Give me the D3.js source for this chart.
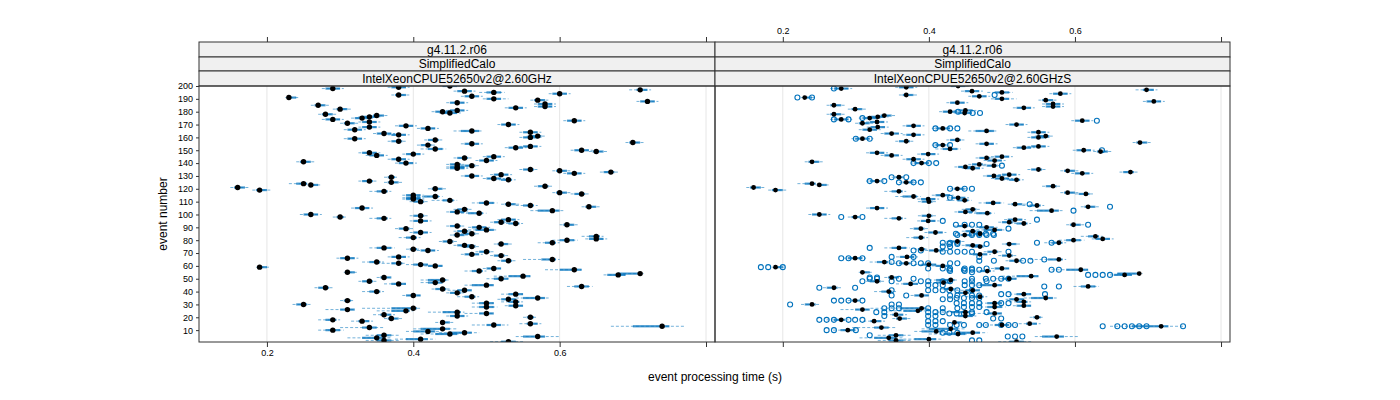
<!DOCTYPE html>
<html><head><meta charset="utf-8">
<script src="https://cdn.jsdelivr.net/npm/d3@7"></script>
<style>body{margin:0;background:#fff}svg{font-family:"Liberation Sans",Arial,sans-serif}</style>
</head><body><svg id="c" width="1400" height="400"></svg>
<script>
// ---------- data ----------
const stripLevels = ["g4.11.2.r06", "SimplifiedCalo"];
const panelNames = ["IntelXeonCPUE52650v2@2.60GHz", "IntelXeonCPUE52650v2@2.60GHzS"];
const xTicks = [0.2, 0.4, 0.6, 0.8];
const xTickLabels = ["0.2", "0.4", "0.6", ""];
const yTicks = [10,20,30,40,50,60,70,80,90,100,110,120,130,140,150,160,170,180,190,200];
const events = d3.range(1, 201);
// median event time per event (s), left panel
const medianA = [
.53,.36,.41,.35,.57,.36,.45,.47,.42,.29, .44,.34,.74,.51,.56,.44,.33,.29,.37,.56,
.46,.36,.50,.46,.39,.31,.40,.50,.54,.25, .50,.54,.31,.53,.57,.48,.40,.54,.46,.35,
.47,.44,.28,.63,.50,.38,.43,.34,.44,.52, .36,.55,.68,.71,.31,.49,.62,.51,.19,.43,
.41,.38,.35,.53,.59,.31,.38,.52,.48,null, .50,.42,.40,.36,.48,.47,.52,.59,.45,.61,
.65,.40,.65,.46,.48,.41,.47,.50,.39,.49, .46,.61,.54,.52,.41,.53,.36,.30,.41,.26,
.49,.46,.59,.47,.33,.64,.56,.53,.50,.41, .45,.40,.40,.43,.40,.63,.60,.36,.19,.43,
.16,.58,.26,.25,.37,.34,.53,.51,.37,.48, .52,.62,.67,.60,.56,.46,.46,.48,.46,.39,
.25,.50,.38,.47,.51,.35,.40,.34,.65,.63, .43,.54,.56,.42,.48,.70,.38,.43,.32,.56,
.57,.38,.36,.56,.48,.32,.42,.34,.39,.53, .31,.34,.62,.29,.33,.34,.35,.28,.45,.44,
.46,.30,.54,.58,.27,.58,.46,.72,.57,.51, .23,.48,.38,.60,.51,.47,.71,.29,.38,.45];
// median event time per event (s), right panel
const medianB = [
.52,.355,.40,.345,.575,.355,.44,.46,.41,.289, .43,.335,.718,.50,.538,.435,.325,.28,.36,.548,
.45,.355,.49,.45,.385,.309,.39,.49,.53,.24, .49,.53,.299,.52,.56,.47,.39,.53,.45,.345,
.46,.43,.27,.618,.49,.375,.42,.329,.43,.51, .349,.54,.668,.688,.309,.48,.608,.50,.19,.419,
.40,.369,.339,.52,.578,.299,.37,.51,.47,null, .49,.41,.39,.359,.47,.46,.51,.578,.439,.598,
.638,.389,.628,.449,.47,.409,.46,.49,.389,.479, .449,.598,.53,.51,.399,.518,.359,.299,.40,.25,
.48,.45,.568,.46,.329,.618,.548,.518,.488,.40, .449,.399,.44,.379,.419,.615,.59,.359,.19,.439,
.16,.57,.25,.24,.369,.329,.52,.50,.359,.489, .51,.61,.676,.59,.55,.46,.45,.489,.469,.39,
.24,.49,.379,.479,.50,.349,.399,.329,.635,.612, .429,.53,.55,.419,.479,.689,.369,.439,.309,.55,
.56,.379,.349,.55,.479,.319,.419,.33,.379,.52, .309,.329,.61,.28,.319,.33,.339,.27,.449,.429,
.45,.299,.53,.57,.27,.57,.439,.708,.56,.50, .23,.469,.369,.58,.50,.459,.698,.28,.369,.44];
// outliers of the right panel: event number and time (s)
const outlierEventsB = [
198,193,191,191,180,179,179,175,174,174,173,167,167,167,159,159,154,154,150,140,140,140,138,
129,129,126,126,125,125,125,120,120,120,113,108,106,103,98,98,96,95,
92,92,92,92,92,89,85,85,85,85,85,84,84,84,84,84,
78,78,78,78,78,77,77,77,75,75,74,72,72,71,71,71,71,71,71,
67,67,67,66,66,66,65,64,64,64,64,63,62,62,62,62,62,62,59,59,59,
58,58,58,58,58,58,57,57,57,57,57,57,56,56,55,53,53,53,53,51,51,
50,50,50,50,50,50,50,50,50,48,48,48,48,48,48,48,48,48,
45,45,45,45,45,45,44,44,43,43,41,41,41,41,41,41,41,38,38,38,
37,37,37,37,37,37,35,35,35,35,34,34,33,33,33,33,31,31,31,31,31,31,30,30,30,
28,28,28,27,27,27,27,27,27,24,24,24,24,24,24,24,23,23,23,23,21,21,21,19,19,
18,18,18,18,18,18,17,17,17,14,14,14,14,14,14,14,14,14,14,
13,13,13,13,13,13,13,10,10,10,8,8,8,6,5,5,5,2,2];
const outlierValuesB = [
.27,.49,.22,.24,.44,.46,.47,.309,.27,.29,.63,.409,.429,.439,.30,.319,.409,.429,.637,.379,.40,.41,.50,
.349,.369,.319,.339,.359,.379,.389,.429,.449,.459,.429,.538,.648,.598,.28,.309,.548,.419,
.437,.449,.459,.469,.618,.509,.437,.459,.469,.478,.488,.439,.459,.469,.479,.489,
.548,.568,.419,.429,.439,.428,.439,.479,.419,.429,.319,.379,.389,.419,.429,.439,.449,.459,.509,
.349,.379,.469,.28,.29,.309,.558,.469,.489,.529,.539,.349,.359,.379,.389,.399,.429,.439,.17,.18,.20,
.399,.419,.429,.449,.459,.479,.428,.448,.459,.469,.568,.578,.429,.449,.459,.618,.628,.638,.648,.319,.329,
.319,.329,.359,.379,.459,.478,.488,.499,.509,.309,.349,.389,.399,.419,.429,.449,.459,.479,
.399,.409,.419,.449,.459,.469,.558,.578,.25,.299,.349,.399,.409,.419,.439,.459,.428,.499,.509,.559,
.349,.369,.429,.439,.459,.469,.438,.448,.459,.469,.419,.429,.27,.28,.29,.309,.438,.448,.459,.469,.499,.509,.21,.349,.359,
.448,.459,.469,.339,.349,.359,.399,.419,.439,.328,.339,.399,.409,.419,.459,.479,.428,.438,.448,.459,.339,.399,.409,.488,.499,
.25,.26,.27,.29,.299,.309,.399,.409,.419,.399,.409,.429,.438,.448,.469,.478,.499,.509,.518,
.638,.658,.668,.678,.688,.698,.748,.26,.27,.30,.419,.439,.428,.319,.508,.518,.528,.459,.469];
// box and whisker extents, as distances from the median in ms
const boxLeftA = [
10,10,20,20,20,10,20,20,20,10, 30,10,40,10,5,0,5,10,5,5,
10,5,10,20,20,10,30,10,10,10, 10,10,5,10,20,10,10,10,10,10,
10,10,10,10,20,10,10,10,20,10, 5,20,15,30,0,10,20,10,0,10,
10,10,10,10,15,10,10,10,10,0, 10,10,5,10,10,10,5,10,10,10,
10,10,10,5,10,10,10,15,10,10, 10,5,10,10,10,10,10,5,10,10,
15,10,20,10,10,5,10,5,10,10, 10,10,10,15,10,10,5,10,5,5,
5,10,0,10,5,10,10,10,5,10, 10,10,10,5,10,10,10,10,10,10,
5,10,10,10,10,10,10,10,5,10, 10,10,10,10,10,5,10,10,10,10,
10,10,10,10,15,10,10,10,10,10, 5,10,10,10,10,10,5,5,10,10,
10,5,10,10,5,10,10,10,5,10, 0,10,5,10,10,10,5,10,10,10];
const boxRightA = [
10,10,10,10,10,10,10,10,10,10, 10,10,10,10,10,10,10,5,10,5,
10,10,10,5,5,10,5,10,10,5, 10,5,5,10,10,5,10,10,5,5,
10,5,5,10,10,10,10,5,5,10, 10,10,10,0,10,5,10,10,10,10,
10,5,5,5,5,10,10,5,10,0, 5,10,5,10,5,10,10,5,5,10,
10,5,5,10,5,10,5,10,5,10, 5,10,5,5,10,10,5,5,5,10,
5,10,10,5,10,10,5,10,10,5, 5,10,10,5,10,5,10,5,10,10,
10,5,10,5,10,5,5,10,5,10, 10,10,5,10,5,10,10,5,5,10,
10,10,10,5,10,10,10,10,10,10, 10,10,10,5,10,10,5,5,10,10,
5,10,10,10,10,10,10,10,10,10, 10,10,10,10,10,10,10,10,10,10,
10,10,10,10,10,10,10,10,10,10, 10,10,10,10,10,10,10,10,10,10];
const whiskLeftA = [
25,25,35,40,30,25,40,35,30,20, 40,40,70,30,15,10,15,20,10,10,
15,15,30,40,40,30,70,20,15,15, 20,20,10,15,30,20,15,20,15,20,
30,15,15,20,30,20,20,15,30,20, 10,40,20,30,5,20,40,15,5,15,
20,30,20,15,40,15,15,15,15,0, 15,15,10,20,15,15,10,20,15,20,
15,20,20,10,15,15,15,25,15,15, 15,10,20,15,15,15,20,10,15,15,
25,15,30,15,15,10,20,10,20,15, 25,15,15,25,15,15,10,20,10,10,
10,15,5,20,10,15,20,15,10,15, 15,15,15,10,15,15,15,15,15,15,
10,15,15,15,15,15,15,15,10,15, 20,15,15,15,15,10,15,15,15,15,
15,15,15,15,25,15,15,15,15,15, 10,15,15,15,15,15,10,10,15,15,
15,10,15,15,10,15,15,15,10,15, 5,15,10,15,20,15,15,15,15,10];
const whiskRightA = [
20,20,20,20,30,20,15,20,15,15, 20,20,30,20,15,15,15,10,15,10,
15,15,10,10,10,10,10,15,10,10, 10,10,10,10,15,10,10,10,10,10,
10,10,10,15,10,10,10,10,10,10, 10,10,10,5,15,10,10,10,15,10,
10,10,10,10,10,15,15,10,15,0, 10,15,10,15,10,15,15,10,10,15,
15,10,10,15,10,15,10,15,10,15, 10,15,10,10,15,15,10,10,10,15,
10,15,15,10,15,15,10,15,15,10, 10,15,15,10,15,10,15,10,15,15,
15,10,15,10,15,10,10,15,10,15, 15,15,10,15,10,15,15,10,10,15,
15,15,15,10,15,15,15,15,15,15, 15,15,15,10,15,15,10,10,15,15,
10,15,15,15,15,15,15,15,15,15, 15,15,15,15,15,15,15,15,15,15,
15,15,15,15,15,15,15,15,15,20, 15,15,15,15,15,15,15,15,15,15];

// ---------- layout ----------
const svg = d3.select("#c");
const panels = [{x0:199, x1:715}, {x0:715, x1:1230}];
const plotTop = 86, plotBot = 342;
const stripH = [42, 57, 71, 86];
const xDomain = [0.2 - 68/732.5, 0.8 + 9/732.5];
const y = d3.scaleLinear().domain([1, 200]).range([plotBot - 0.3, plotTop]);
const blue = "#0072bc";
const gridCol = "#e6e6e6";
const frameCol = "#333";

function drawPanel(i, med, bl, br, wl, wr, outE, outV) {
  const p = panels[i];
  const x = d3.scaleLinear().domain(xDomain).range([p.x0, p.x1]);
  const g = svg.append("g");
  const clipId = "clip" + i;
  svg.append("clipPath").attr("id", clipId).append("rect")
    .attr("x", p.x0).attr("y", plotTop).attr("width", p.x1 - p.x0).attr("height", plotBot - plotTop);
  g.selectAll(".grid").data(xTicks).join("line")
    .attr("x1", d => x(d)).attr("x2", d => x(d)).attr("y1", plotTop).attr("y2", plotBot)
    .attr("stroke", gridCol).attr("stroke-width", 1);
  const rows = events.map((e, k) => ({e, m: med[k], bl: bl[k], br: br[k], wl: wl[k], wr: wr[k]}))
    .filter(d => d.m != null);
  const pg = g.append("g").attr("clip-path", `url(#${clipId})`);
  pg.selectAll(".wh").data(rows).join("line")
    .attr("x1", d => x(d.m - d.wl / 1000)).attr("x2", d => x(d.m + d.wr / 1000))
    .attr("y1", d => y(d.e)).attr("y2", d => y(d.e))
    .attr("stroke", blue).attr("stroke-opacity", 0.55).attr("stroke-width", 1)
    .attr("stroke-dasharray", "3,2");
  pg.selectAll(".bx").data(rows).join("rect")
    .attr("x", d => x(d.m - d.bl / 1000)).attr("width", d => Math.max(0.5, x(d.m + d.br / 1000) - x(d.m - d.bl / 1000)))
    .attr("y", d => y(d.e) - 1.1).attr("height", 2.2)
    .attr("fill", blue).attr("fill-opacity", 0.75);
  pg.selectAll(".out").data(outE.map((e, k) => ({e, v: outV[k]}))).join("circle")
    .attr("cx", d => x(d.v)).attr("cy", d => y(d.e)).attr("r", 2.5)
    .attr("fill", "none").attr("stroke", blue).attr("stroke-width", 1.1);
  pg.selectAll(".md").data(rows).join("circle")
    .attr("cx", d => x(d.m)).attr("cy", d => y(d.e)).attr("r", i === 0 ? 2.7 : 2.4).attr("fill", "#000");
  [stripLevels[0], stripLevels[1], panelNames[i]].forEach((t, k) => {
    g.append("rect").attr("x", p.x0).attr("y", stripH[k]).attr("width", p.x1 - p.x0)
      .attr("height", stripH[k + 1] - stripH[k]).attr("fill", "#f0f0f0")
      .attr("stroke", frameCol).attr("stroke-width", 1);
    g.append("text").attr("x", (p.x0 + p.x1) / 2).attr("y", (stripH[k] + stripH[k + 1]) / 2 + 4.2)
      .attr("text-anchor", "middle").attr("font-size", 12).attr("fill", "#000").text(t);
  });
  g.append("rect").attr("x", p.x0).attr("y", plotTop).attr("width", p.x1 - p.x0)
    .attr("height", plotBot - plotTop).attr("fill", "none").attr("stroke", frameCol).attr("stroke-width", 1);
  const labelled = (i === 0);
  const bottom = d3.axisBottom(x).tickValues(xTicks).tickSize(5).tickSizeOuter(0)
    .tickFormat((d, k) => labelled ? xTickLabels[k] : "");
  const ba = svg.append("g").attr("transform", `translate(0,${plotBot})`).call(bottom);
  const top = d3.axisTop(x).tickValues(xTicks).tickSize(5).tickSizeOuter(0)
    .tickFormat((d, k) => !labelled ? xTickLabels[k] : "");
  const ta = svg.append("g").attr("transform", `translate(0,${stripH[0]})`).call(top);
  [ba, ta].forEach(a => {
    a.select(".domain").remove();
    a.selectAll("line").attr("stroke", frameCol);
    a.selectAll("text").attr("font-size", 9).attr("fill", "#000").attr("font-family", "Liberation Sans, Arial, sans-serif");
  });
  if (i === 0) {
    const la = svg.append("g").attr("transform", `translate(${p.x0},0)`)
      .call(d3.axisLeft(y).tickValues(yTicks).tickSize(3).tickSizeOuter(0));
    la.select(".domain").remove();
    la.selectAll("line").attr("stroke", frameCol);
    la.selectAll("text").attr("font-size", 9).attr("fill", "#000").attr("font-family", "Liberation Sans, Arial, sans-serif");
  }
}
drawPanel(0, medianA, boxLeftA, boxRightA, whiskLeftA, whiskRightA, [], []);
drawPanel(1, medianB, boxLeftA, boxRightA, whiskLeftA, whiskRightA, outlierEventsB, outlierValuesB);

svg.append("text").attr("x", 715).attr("y", 381).attr("text-anchor", "middle")
  .attr("font-size", 12).text("event processing time (s)");
svg.append("text").attr("transform", "translate(167,214) rotate(-90)").attr("text-anchor", "middle")
  .attr("font-size", 12).text("event number");
</script></body></html>
